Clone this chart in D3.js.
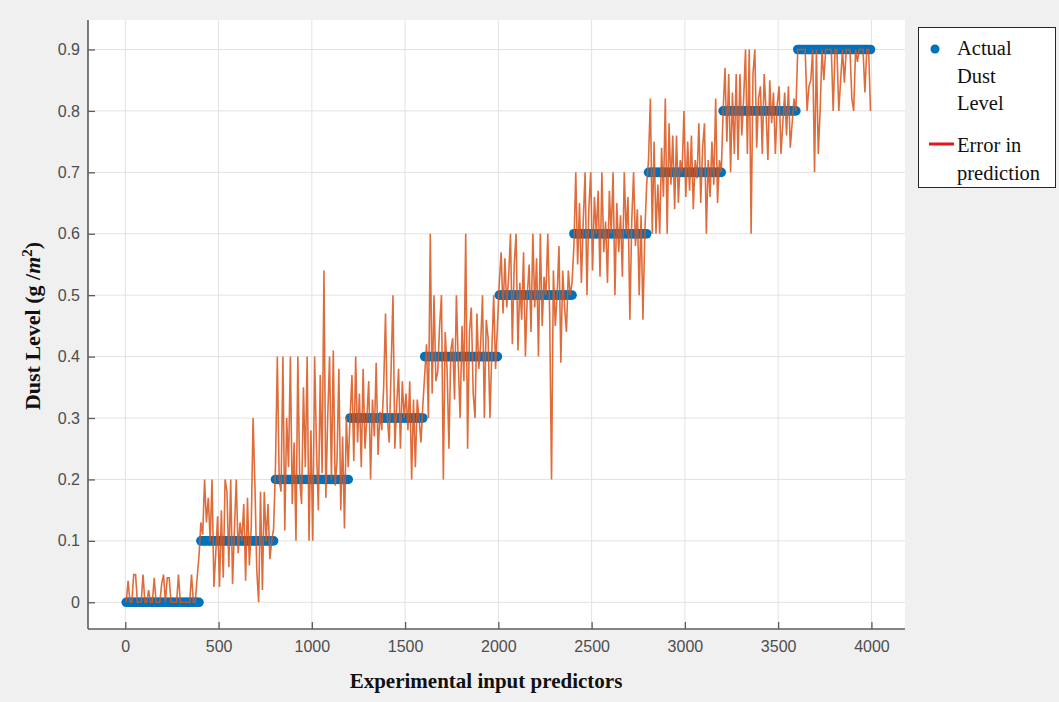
<!DOCTYPE html>
<html>
<head>
<meta charset="utf-8">
<script src="https://cdn.jsdelivr.net/npm/d3@7"></script>
<style>
  html, body { margin: 0; padding: 0; background: #f0f0f0; }
  svg { display: block; }
</style>
</head>
<body>
<svg id="chart" width="1059" height="702"></svg>
<script>
// Actual dust level of each block of experiments (g/m^2)
const actualLevels = [0, 0.1, 0.2, 0.3, 0.4, 0.5, 0.6, 0.7, 0.8, 0.9];
// Each block covers 400 experimental inputs, sampled every 10
const samplesPerBlock = 40;
const sampleStep = 10;

// Predicted dust level for each block
const predicted00 = [0,0.035,0,0,0.045,0.045,0,0,0,0.045, 0,0,0.02,0,0,0.04,0,0,0,0.03, 0.045,0,0.04,0.04,0,0,0,0,0.045,0, 0,0,0,0,0,0.045,0,0,0.04,0.075];
const predicted01 = [0.13,0.11,0.2,0.13,0.17,0.1,0.2,0.025,0.08,0.14, 0.025,0.15,0.04,0.2,0.18,0.057,0.2,0.03,0.12,0.2, 0.08,0.13,0.1,0.16,0.035,0.17,0.06,0.12,0.3,0.19, 0.05,0,0.18,0.02,0.18,0.1,0.16,0.07,0.1,0.12];
const predicted02 = [0.22,0.4,0.2,0.18,0.4,0.117,0.3,0.22,0.4,0.16, 0.26,0.1,0.4,0.2,0.16,0.35,0.22,0.4,0.1,0.28, 0.1,0.4,0.25,0.15,0.37,0.21,0.54,0.17,0.3,0.4, 0.2,0.41,0.19,0.23,0.38,0.15,0.27,0.12,0.3,0.22];
const predicted03 = [0.3,0.37,0.23,0.4,0.26,0.34,0.22,0.38,0.25,0.3, 0.36,0.2,0.33,0.27,0.39,0.24,0.31,0.28,0.35,0.47, 0.3,0.26,0.38,0.5,0.25,0.32,0.38,0.25,0.36,0.3, 0.34,0.28,0.36,0.2,0.33,0.22,0.33,0.3,0.26,0.32];
const predicted04 = [0.37,0.42,0.3,0.6,0.34,0.5,0.36,0.375,0.45,0.5, 0.2,0.44,0.38,0.25,0.41,0.43,0.33,0.5,0.39,0.3, 0.45,0.36,0.6,0.25,0.44,0.48,0.34,0.3,0.47,0.38, 0.42,0.5,0.3,0.46,0.43,0.3,0.41,0.5,0.38,0.45];
const predicted05 = [0.52,0.57,0.47,0.56,0.48,0.53,0.6,0.42,0.55,0.6, 0.41,0.52,0.46,0.57,0.4,0.5,0.55,0.44,0.6,0.48, 0.56,0.4,0.6,0.45,0.53,0.5,0.6,0.47,0.2,0.54, 0.45,0.5,0.58,0.39,0.54,0.48,0.44,0.54,0.5,0.52];
const predicted06 = [0.58,0.7,0.55,0.65,0.52,0.62,0.7,0.5,0.64,0.7, 0.54,0.66,0.6,0.67,0.53,0.7,0.57,0.62,0.52,0.67, 0.6,0.7,0.5,0.65,0.57,0.63,0.53,0.7,0.6,0.66, 0.46,0.62,0.7,0.58,0.64,0.5,0.63,0.46,0.6,0.68];
const predicted07 = [0.72,0.82,0.6,0.75,0.6,0.68,0.6,0.74,0.66,0.82, 0.6,0.78,0.68,0.76,0.64,0.76,0.65,0.72,0.7,0.8, 0.66,0.75,0.67,0.76,0.64,0.72,0.69,0.78,0.65,0.74, 0.78,0.6,0.72,0.66,0.75,0.68,0.82,0.65,0.72,0.7];
const predicted08 = [0.8,0.87,0.75,0.86,0.7,0.83,0.73,0.86,0.72,0.86, 0.76,0.82,0.9,0.73,0.9,0.6,0.86,0.9,0.74,0.82, 0.84,0.73,0.86,0.8,0.72,0.85,0.78,0.83,0.73,0.81, 0.84,0.73,0.78,0.83,0.76,0.84,0.74,0.78,0.82,0.8];
const predicted09 = [0.9,0.9,0.9,0.9,0.9,0.8,0.84,0.85,0.9,0.7, 0.9,0.73,0.8,0.9,0.85,0.9,0.9,0.9,0.9,0.8, 0.9,0.9,0.8,0.85,0.9,0.846,0.9,0.9,0.9,0.82, 0.8,0.9,0.88,0.9,0.9,0.9,0.83,0.9,0.9,0.8];

const xTicks = [0, 500, 1000, 1500, 2000, 2500, 3000, 3500, 4000];
const yTicks = [0, 0.1, 0.2, 0.3, 0.4, 0.5, 0.6, 0.7, 0.8, 0.9];
const legendItems = [
  { lines: ["Actual", "Dust", "Level"], kind: "dot" },
  { lines: ["Error in", "prediction"], kind: "line" }
];

const predictedBlocks = [predicted00, predicted01, predicted02, predicted03, predicted04,
                         predicted05, predicted06, predicted07, predicted08, predicted09];

// Flatten into one series of samples
const samples = [];
predictedBlocks.forEach((block, b) => {
  block.forEach((v, i) => {
    samples.push({ x: (b * samplesPerBlock + i) * sampleStep + 5, actual: actualLevels[b], predicted: v });
  });
});

const svg = d3.select("#chart");
const plot = { left: 88, right: 905, top: 20, bottom: 629 };

const x = d3.scaleLinear().domain([-200, 4180]).range([plot.left, plot.right]);
const y = d3.scaleLinear().domain([-0.0435, 0.948]).range([plot.bottom, plot.top]);

const blue = "#0072BD";
const orange = "#D95319";
const axisColor = "#5c5c5c";

// background
svg.append("rect").attr("width", 1059).attr("height", 702).attr("fill", "#f0f0f0");
svg.append("rect")
  .attr("x", plot.left).attr("y", plot.top)
  .attr("width", plot.right - plot.left).attr("height", plot.bottom - plot.top)
  .attr("fill", "#ffffff");

// grid
const grid = svg.append("g");
grid.selectAll("line.vx").data(xTicks).join("line")
  .attr("x1", d => x(d)).attr("x2", d => x(d))
  .attr("y1", plot.top).attr("y2", plot.bottom)
  .attr("stroke", "#e2e2e2").attr("stroke-width", 1);
grid.selectAll("line.hy").data(yTicks).join("line")
  .attr("y1", d => y(d)).attr("y2", d => y(d))
  .attr("x1", plot.left).attr("x2", plot.right)
  .attr("stroke", "#e2e2e2").attr("stroke-width", 1);

// actual levels as dots
svg.append("g").selectAll("circle").data(samples).join("circle")
  .attr("cx", d => x(d.x)).attr("cy", d => y(d.actual))
  .attr("r", 4.8).attr("fill", blue);

// predicted series
const line = d3.line().x(d => x(d.x)).y(d => y(d.predicted));
svg.append("path").datum(samples)
  .attr("d", line)
  .attr("fill", "none")
  .attr("stroke", orange)
  .attr("stroke-width", 1.6)
  .attr("stroke-opacity", 0.85);

// axes
const xAxis = d3.axisBottom(x).tickValues(xTicks).tickSize(-7).tickPadding(12).tickFormat(d3.format("d"));
const yAxis = d3.axisLeft(y).tickValues(yTicks).tickSize(-7).tickPadding(8).tickFormat(d => d === 0 ? "0" : d3.format(".1f")(d));

const gx = svg.append("g").attr("transform", `translate(0,${plot.bottom})`).call(xAxis);
const gy = svg.append("g").attr("transform", `translate(${plot.left},0)`).call(yAxis);
[gx, gy].forEach(g => {
  g.select(".domain").remove();
  g.selectAll(".tick line").attr("stroke", axisColor).attr("stroke-width", 1.3);
  g.selectAll(".tick text")
    .attr("fill", "#4d4d4d")
    .style("font-family", "'Liberation Sans', Arial, sans-serif")
    .style("font-size", "16px");
});
svg.append("line").attr("x1", plot.left).attr("x2", plot.right)
  .attr("y1", plot.bottom).attr("y2", plot.bottom)
  .attr("stroke", axisColor).attr("stroke-width", 1.6);
svg.append("line").attr("x1", plot.left).attr("x2", plot.left)
  .attr("y1", plot.top).attr("y2", plot.bottom)
  .attr("stroke", axisColor).attr("stroke-width", 1.6);

// axis titles
svg.append("text")
  .attr("x", 486).attr("y", 688)
  .attr("text-anchor", "middle")
  .style("font-family", "'Liberation Serif', 'Times New Roman', serif")
  .style("font-weight", "bold").style("font-size", "21px")
  .attr("fill", "#111")
  .text("Experimental input predictors");

const yTitle = svg.append("text")
  .attr("transform", "translate(40,326) rotate(-90)")
  .attr("text-anchor", "middle")
  .style("font-family", "'Liberation Serif', 'Times New Roman', serif")
  .style("font-weight", "bold").style("font-size", "22px")
  .attr("fill", "#111");
yTitle.append("tspan").text("Dust Level (g /");
yTitle.append("tspan").style("font-style", "italic").text("m");
yTitle.append("tspan").attr("baseline-shift", "super").style("font-size", "15px").text("2");
yTitle.append("tspan").text(")");

// legend
const legend = svg.append("g");
legend.append("rect")
  .attr("x", 918.5).attr("y", 27.5).attr("width", 137).attr("height", 160)
  .attr("fill", "#ffffff").attr("stroke", "#262626").attr("stroke-width", 1);

const lineGap = 27.5;
let baseY = 55;
legendItems.forEach((item, k) => {
  const g = legend.append("g");
  if (item.kind === "dot") {
    g.append("circle").attr("cx", 935).attr("cy", baseY - 6).attr("r", 4.5).attr("fill", blue);
  } else {
    g.append("line").attr("x1", 929).attr("x2", 954)
      .attr("y1", baseY - 8).attr("y2", baseY - 8)
      .attr("stroke", "#e8141c").attr("stroke-width", 3);
  }
  item.lines.forEach((t, j) => {
    g.append("text")
      .attr("x", 957).attr("y", baseY + j * lineGap)
      .style("font-family", "'Liberation Serif', 'Times New Roman', serif")
      .style("font-size", "20.5px")
      .attr("fill", "#111")
      .text(t);
  });
  baseY += (item.lines.length - 1) * lineGap + 42;
});
</script>
</body>
</html>
